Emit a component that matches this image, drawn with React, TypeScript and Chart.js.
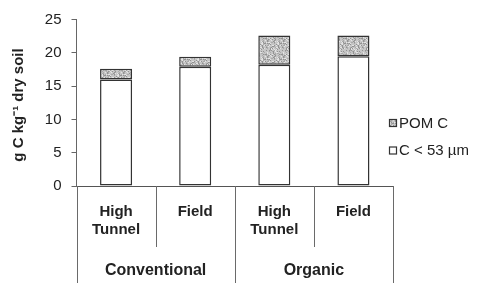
import React, { useEffect, useRef } from "react";
import { Chart, registerables } from "chart.js";

Chart.register(...registerables);

const categories: (string | string[])[] = [["High", "Tunnel"], "Field", ["High", "Tunnel"], "Field"];
const groups: string[] = ["Conventional", "Organic"];
const fineC: number[] = [16.0, 17.9, 18.2, 19.5];
const pomC: number[] = [1.6, 1.5, 4.4, 3.1];
const yTicksMax = 25;
const yStep = 5;
const yTitle = "g C kg\u207B\u00B9 dry soil";

const FONT = "'Liberation Sans', Arial, sans-serif";

function makePattern(): CanvasPattern | string {
  const c = document.createElement("canvas");
  c.width = 16;
  c.height = 16;
  const g = c.getContext("2d");
  if (!g) return "#c4c4c4";
  g.fillStyle = "#c6c6c6";
  g.fillRect(0, 0, 16, 16);
  for (let y = 0; y < 16; y++) {
    for (let x = 0; x < 16; x++) {
      const h = (((x * 73856093) ^ (y * 19349663)) >>> 0) % 7;
      if (h === 0) {
        g.fillStyle = "#929292";
        g.fillRect(x, y, 1, 1);
      } else if (h === 3) {
        g.fillStyle = "#e4e4e4";
        g.fillRect(x, y, 1, 1);
      } else if (h === 5) {
        g.fillStyle = "#aaaaaa";
        g.fillRect(x, y, 1, 1);
      }
    }
  }
  return g.createPattern(c, "repeat") || "#c4c4c4";
}

export default function App() {
  const ref = useRef<HTMLCanvasElement | null>(null);

  useEffect(() => {
    if (!ref.current) return;
    const pattern = makePattern();

    const decor = {
      id: "decor",
      afterDraw(chart: any) {
        const ctx = chart.ctx;
        const x = chart.scales.x;
        const n = categories.length;
        const w = (x.right - x.left) / n;
        const base = chart.chartArea.bottom;
        ctx.save();
        ctx.strokeStyle = "#6a6a6a";
        ctx.lineWidth = 1;
        for (let i = 0; i <= n; i++) {
          const px = Math.round(x.left + i * w) + 0.5;
          const end = i % 2 === 0 ? 283 : 247;
          ctx.beginPath();
          ctx.moveTo(px, base);
          ctx.lineTo(px, end);
          ctx.stroke();
        }
        ctx.fillStyle = "#222";
        ctx.font = `bold 16px ${FONT}`;
        ctx.textAlign = "center";
        ctx.textBaseline = "middle";
        groups.forEach((gname, gi) => {
          const cx = x.left + (gi * 2 + 1) * w;
          ctx.fillText(gname, cx, 271);
        });
        // y title
        ctx.save();
        ctx.translate(19, 105);
        ctx.rotate(-Math.PI / 2);
        ctx.font = `bold 15px ${FONT}`;
        ctx.fillText(yTitle, 0, 0);
        ctx.restore();
        // legend
        const items = [
          { label: "POM C", fill: pattern, y: 123.5 },
          { label: "C < 53 µm", fill: "#ffffff", y: 151 },
        ];
        ctx.font = `15px ${FONT}`;
        ctx.textAlign = "left";
        items.forEach((it) => {
          ctx.fillStyle = it.fill as any;
          ctx.fillRect(389.5, it.y - 4, 7, 7);
          ctx.strokeStyle = "#333";
          ctx.lineWidth = 1.2;
          ctx.strokeRect(389.5, it.y - 4, 7, 7);
          ctx.fillStyle = "#222";
          ctx.fillText(it.label, 399, it.y);
        });
        ctx.restore();
      },
    };

    const chart = new Chart(ref.current, {
      type: "bar",
      data: {
        labels: categories,
        datasets: [
          {
            label: "C < 53 µm",
            data: fineC,
            backgroundColor: "#ffffff",
            borderColor: "#333333",
            borderWidth: 1.5,
            borderSkipped: false,
          },
          {
            label: "POM C",
            data: pomC,
            backgroundColor: pattern as any,
            borderColor: "#333333",
            borderWidth: 1.5,
            borderSkipped: false,
          },
        ],
      },
      options: {
        responsive: false,
        animation: false,
        layout: { padding: { top: 19.5, right: 84, left: 0, bottom: 0 } },
        datasets: { bar: { categoryPercentage: 1, barPercentage: 0.405 } },
        plugins: { legend: { display: false }, tooltip: { enabled: false } },
        scales: {
          x: {
            stacked: true,
            grid: { display: false, drawTicks: false },
            border: { display: true, color: "#555555", width: 1 },
            ticks: {
              color: "#222",
              font: { family: FONT, size: 15, weight: "bold", lineHeight: 1.22 },
              padding: 16.5,
              maxRotation: 0,
              autoSkip: false,
            },
            afterFit: (s: any) => {
              s.height = 97;
            },
          },
          y: {
            stacked: true,
            min: 0,
            max: yTicksMax,
            grid: { drawOnChartArea: false, drawTicks: true, tickLength: 5, color: "#666666" },
            border: { display: true, color: "#666666", width: 1 },
            ticks: {
              stepSize: yStep,
              color: "#222",
              font: { family: FONT, size: 15 },
              padding: 10,
            },
            title: { display: false },
            afterFit: (s: any) => {
              s.width = 76.5;
            },
          },
        },
      },
      plugins: [decor],
    });
    return () => chart.destroy();
  }, []);

  return (
    <div style={{ position: "fixed", left: 0, top: 0, width: 477, height: 283, background: "#fff" }}>
      <canvas ref={ref} width={477} height={283} style={{ display: "block" }} />
    </div>
  );
}
